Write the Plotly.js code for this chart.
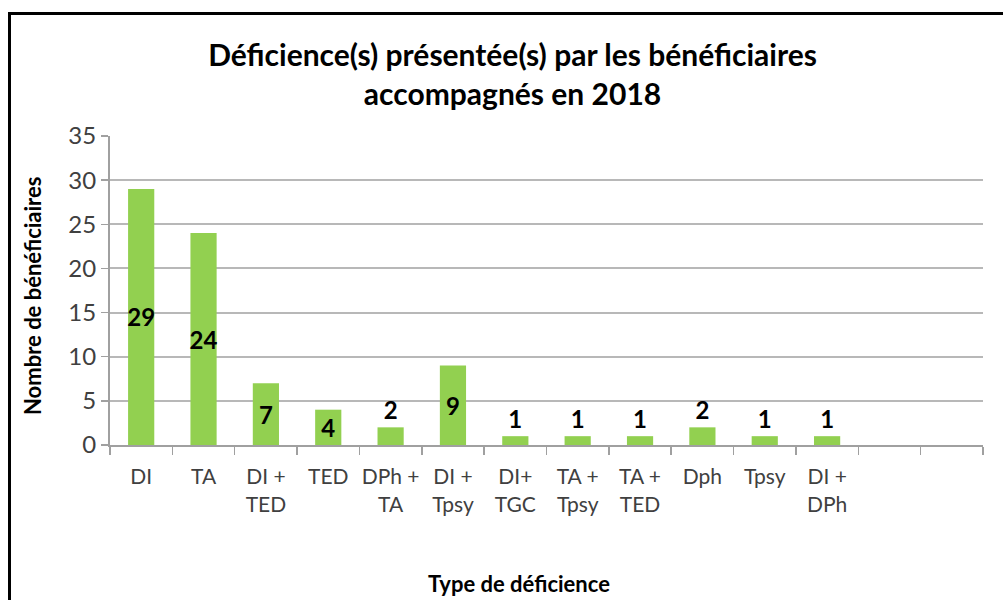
<!DOCTYPE html>
<html>
<head>
<meta charset="utf-8">
<script src="https://cdn.plot.ly/plotly-3.0.1.min.js"></script>
<style>
  html, body { margin: 0; padding: 0; background: #ffffff; }
  #chart { width: 1003px; height: 600px; }
</style>
</head>
<body>
<div id="chart"></div>
<script>
const categories = ["DI", "TA", "DI +<br>TED", "TED", "DPh +<br>TA", "DI +<br>Tpsy", "DI+<br>TGC",
                    "TA +<br>Tpsy", "TA +<br>TED", "Dph", "Tpsy", "DI +<br>DPh", "\u200b", "\u200b\u200b"];
const values = [29, 24, 7, 4, 2, 9, 1, 1, 1, 2, 1, 1, null, null];
const labels = ["29", "24", "7", "4", "2", "9", "1", "1", "1", "2", "1", "1", "", ""];
const labelPos = ["inside", "inside", "inside", "inside", "outside", "inside", "outside",
                  "outside", "outside", "outside", "outside", "outside", "none", "none"];
const yTicks = [0, 5, 10, 15, 20, 25, 30, 35];

const FONT = "Lato, 'Open Sans', sans-serif";

const trace = {
  type: "bar",
  x: categories,
  y: values,
  text: labels,
  textposition: labelPos,
  insidetextanchor: "middle",
  textangle: 0,
  constraintext: "none",
  cliponaxis: false,
  textfont: { family: FONT, size: 24, color: "#000000", weight: "bold" },
  marker: { color: "#92D050", line: { width: 0 } },
  hoverinfo: "x+y"
};

const layout = {
  width: 1003,
  height: 600,
  margin: { l: 110, r: 20, t: 136, b: 155 },
  paper_bgcolor: "rgba(0,0,0,0)",
  plot_bgcolor: "rgba(0,0,0,0)",
  bargap: 0.58,
  showlegend: false,
  title: {
    text: "<b>Déficience(s) présentée(s) par les bénéficiaires<br>accompagnés en 2018</b>",
    font: { family: FONT, size: 30, color: "#000000" },
    xref: "container", x: 0.511,
    yref: "container", y: 1 - 66 / 600, yanchor: "middle"
  },
  xaxis: {
    type: "category",
    range: [-0.5, 13.5],
    tickson: "boundaries",
    ticks: "outside",
    ticklen: 8,
    tickwidth: 1.5,
    tickcolor: "#a0a0a0",
    showline: true,
    linecolor: "#a0a0a0",
    linewidth: 2,
    showgrid: false,
    tickfont: { family: FONT, size: 21, color: "#404040" },
    ticklabelstandoff: 12,
    tickangle: 0,
    automargin: false
  },
  yaxis: {
    range: [0, 35],
    tickvals: yTicks,
    ticks: "outside",
    ticklen: 7,
    tickwidth: 1.5,
    tickcolor: "#a0a0a0",
    showline: true,
    linecolor: "#a0a0a0",
    linewidth: 2,
    showgrid: true,
    gridcolor: "#b8b8b8",
    gridwidth: 2,
    zeroline: false,
    tickfont: { family: FONT, size: 24, color: "#404040" },
    automargin: false
  },
  annotations: [
    {
      text: "<b>Type de déficience</b>",
      xref: "paper", yref: "paper",
      x: (519 - 110) / 873, y: (445 - 583) / 309,
      xanchor: "center", yanchor: "middle",
      showarrow: false,
      font: { family: FONT, size: 22, color: "#000000" }
    },
    {
      text: "<b>Nombre de bénéficiaires</b>",
      xref: "paper", yref: "paper",
      x: (32 - 110) / 873, y: (445 - 296) / 309,
      xanchor: "center", yanchor: "middle",
      textangle: -90,
      showarrow: false,
      font: { family: FONT, size: 22, color: "#000000" }
    }
  ],
  shapes: [
    {
      type: "line", xref: "paper", yref: "paper",
      x0: (10 - 110) / 873, x1: (1010 - 110) / 873,
      y0: (445 - 13.5) / 309, y1: (445 - 13.5) / 309,
      line: { color: "#000000", width: 3 }
    },
    {
      type: "line", xref: "paper", yref: "paper",
      x0: (9.5 - 110) / 873, x1: (9.5 - 110) / 873,
      y0: (445 - 12) / 309, y1: (445 - 610) / 309,
      line: { color: "#000000", width: 3 }
    }
  ]
};

Plotly.newPlot("chart", [trace], layout, { displayModeBar: false, staticPlot: true });
</script>
</body>
</html>
